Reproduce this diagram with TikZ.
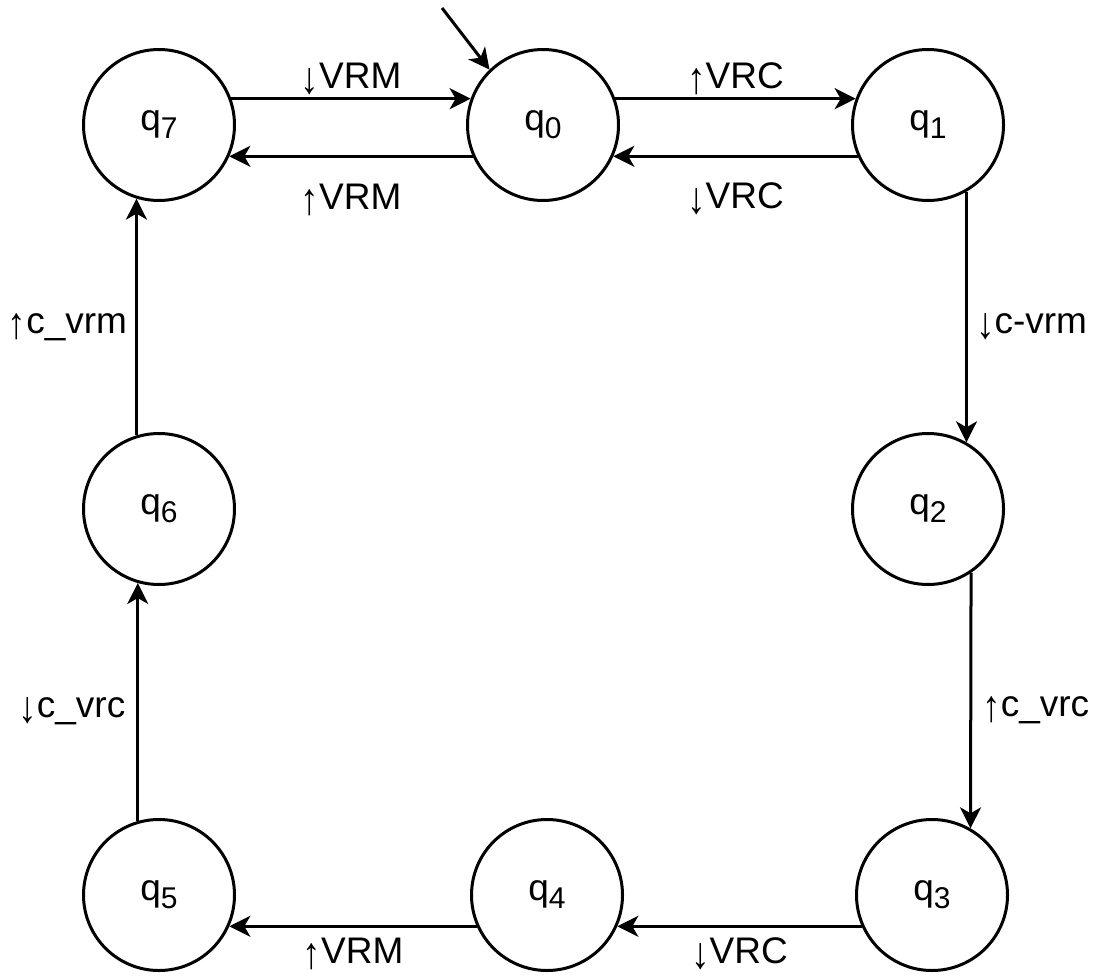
\documentclass[tikz,border=0pt]{standalone}
\usepackage{fontspec}
\setmainfont{Liberation Sans}
\usetikzlibrary{arrows.meta}
\newcommand\qsub[1]{q\raisebox{-8pt}{\fontsize{30}{30}\selectfont #1}}
\newcommand\arrdn{\raisebox{-5pt}{\scalebox{1}[1.2]{↓}}}
\newcommand\arrup{\raisebox{-5pt}{\scalebox{1}[1.2]{↑}}}
\begin{document}
\begin{tikzpicture}[x=1pt,y=-1pt,
  state/.style={circle, draw, line width=3pt, minimum size=151pt, inner sep=0pt, font=\fontsize{37}{40}\selectfont},
  trans/.style={line width=3pt, -{Stealth[length=21pt,width=21pt,inset=6pt]}},
  lbl/.style={font=\fontsize{37}{40}\selectfont, inner sep=0pt}]
\useasboundingbox (0,0) rectangle (1099,976);
\node[state] (q7) at (159,125) {\qsub{7}};
\node[state] (q0) at (543,125) {\qsub{0}};
\node[state] (q1) at (928,125) {\qsub{1}};
\node[state] (q2) at (928,509) {\qsub{2}};
\node[state] (q6) at (159,509) {\qsub{6}};
\node[state] (q3) at (932,895) {\qsub{3}};
\node[state] (q4) at (547,895) {\qsub{4}};
\node[state] (q5) at (159,895) {\qsub{5}};
\coordinate (init) at (442,8);
\draw[trans] (init) -- (q0.134);
\draw[trans] (q7.20) -- node[lbl, anchor=base, yshift=10pt] {\arrdn VRM} (q0.160);
\draw[trans] (q0.204) -- node[lbl, anchor=base, yshift=-53pt] {\arrup VRM} (q7.336);
\draw[trans] (q0.20) -- node[lbl, anchor=base, yshift=10pt] {\arrup VRC} (q1.160);
\draw[trans] (q1.204) -- node[lbl, anchor=base, yshift=-52pt] {\arrdn VRC} (q0.336);
\draw[trans] (q1.300) -- node[lbl, anchor=base west, xshift=8pt, yshift=-16pt] {\arrdn c-vrm} (q2.60);
\draw[trans] (q2.304) -- node[lbl, anchor=base west, xshift=10pt, yshift=-16pt] {\arrup c\_vrc} (q3.60);
\draw[trans] (q3.204) -- node[lbl, anchor=base, yshift=-37pt] {\arrdn VRC} (q4.336);
\draw[trans] (q4.204) -- node[lbl, anchor=base, yshift=-37pt] {\arrup VRM} (q5.336);
\draw[trans] (q5.106) -- node[lbl, anchor=base east, xshift=-11pt, yshift=-15pt] {\arrdn c\_vrc} (q6.254);
\draw[trans] (q6.107) -- node[lbl, anchor=base east, xshift=-8pt, yshift=-16pt] {\arrup c\_vrm} (q7.253);
\end{tikzpicture}
\end{document}
